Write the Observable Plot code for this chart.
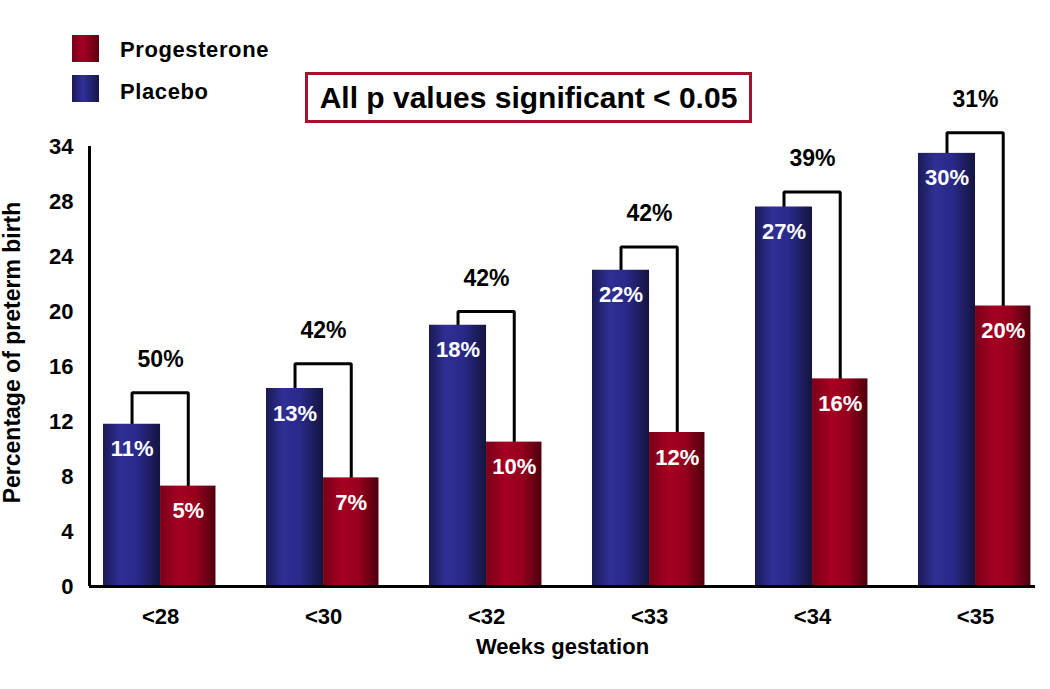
<!DOCTYPE html>
<html>
<head>
<meta charset="utf-8">
<script src="https://cdn.jsdelivr.net/npm/d3@7"></script>
<script src="https://cdn.jsdelivr.net/npm/@observablehq/plot@0.6"></script>
<style>
  html, body { margin: 0; padding: 0; background: #fff; }
  #wrap { position: relative; width: 1050px; height: 689px; font-family: "Liberation Sans", Arial, sans-serif; font-weight: bold; color: #000; }
  .sw { position: absolute; left: 72px; width: 27px; height: 27px; }
  .lt { position: absolute; left: 120px; font-size: 22px; line-height: 24px; letter-spacing: 0.6px; }
  #box { position: absolute; left: 305px; top: 72px; width: 441px; height: 45px; border: 3px solid #a0142c;
         display: flex; align-items: center; justify-content: center; font-size: 30px; background: #fff; }
</style>
</head>
<body>
<div id="wrap">
  <div class="sw" style="top:35px;background:linear-gradient(90deg,#7a0018,#a50022 40%,#5a0010)"></div>
  <div class="lt" style="top:38px">Progesterone</div>
  <div class="sw" style="top:75px;background:linear-gradient(90deg,#1a1a55,#30309a 40%,#16164a)"></div>
  <div class="lt" style="top:80px">Placebo</div>
  <div id="box">All p values significant &lt; 0.05</div>
</div>
<script>
// ---- data ----
const weeks = ["<28", "<30", "<32", "<33", "<34", "<35"];
const placebo = [11.8, 14.4, 19.0, 23.0, 27.6, 31.5];
const progesterone = [7.3, 7.9, 10.5, 11.2, 15.1, 20.4];
const bracketTop = [14.1, 16.2, 20.0, 24.7, 28.7, 33.0];
const placeboLabels = ["11%", "13%", "18%", "22%", "27%", "30%"];
const progesteroneLabels = ["5%", "7%", "10%", "12%", "16%", "20%"];
const reductionLabels = ["50%", "42%", "42%", "42%", "39%", "31%"];
const yTicks = [0, 4, 8, 12, 16, 20, 24, 28, 32];
const yTickLabels = ["0", "4", "8", "12", "16", "20", "24", "28", "34"];

// ---- layout constants (in group units) ----
const BLUE_W = 0.35, RED_W = 0.34;
const X_DOMAIN = [-0.436, 5.368];
const Y_DOMAIN = [0, 32];

const rows = weeks.map((w, i) => ({
  week: w, i,
  placebo: placebo[i], progesterone: progesterone[i], bracket: bracketTop[i],
  pl: placeboLabels[i], pr: progesteroneLabels[i], red: reductionLabels[i]
}));
const bracketPts = rows.flatMap(d => [
  {week: d.week, x: d.i - BLUE_W / 2, y: d.placebo},
  {week: d.week, x: d.i - BLUE_W / 2, y: d.bracket},
  {week: d.week, x: d.i + RED_W / 2, y: d.bracket},
  {week: d.week, x: d.i + RED_W / 2, y: d.progesterone}
]);

const svg = Plot.plot({
  width: 1050,
  height: 689,
  marginTop: 146,
  marginBottom: 103,
  marginLeft: 89,
  marginRight: 15,
  style: {fontFamily: "'Liberation Sans', Arial, sans-serif", fontSize: "22px", fontWeight: "bold", color: "#000", background: "transparent"},
  x: {type: "linear", domain: X_DOMAIN, ticks: weeks.map((_, i) => i), tickFormat: i => weeks[i], tickSize: 0, tickPadding: 22, label: null},
  y: {domain: Y_DOMAIN, ticks: yTicks, tickFormat: d => yTickLabels[yTicks.indexOf(d)], tickSize: 0, tickPadding: 16, label: null},
  marks: [
    Plot.line(bracketPts, {x: "x", y: "y", z: "week", stroke: "#000", strokeWidth: 3, strokeLinejoin: "miter", strokeLinecap: "square"}),
    Plot.rect(rows, {x1: d => d.i - BLUE_W, x2: "i", y1: 0, y2: "placebo", fill: "url(#gPlacebo)"}),
    Plot.rect(rows, {x1: "i", x2: d => d.i + RED_W, y1: 0, y2: "progesterone", fill: "url(#gProg)"}),
    Plot.text(rows, {x: d => d.i - BLUE_W / 2, y: "placebo", text: "pl", fill: "#fff", dy: 25, fontSize: 22}),
    Plot.text(rows, {x: d => d.i + RED_W / 2, y: "progesterone", text: "pr", fill: "#fff", dy: 25, fontSize: 22}),
    Plot.text(rows, {x: "i", y: "bracket", text: "red", fill: "#000", dy: -33, fontSize: 23}),
    Plot.ruleY([0], {stroke: "#000", strokeWidth: 3}),
    Plot.ruleX([X_DOMAIN[0]], {y1: 0, y2: Y_DOMAIN[1], stroke: "#000", strokeWidth: 3}),
    Plot.text(["Weeks gestation"], {frameAnchor: "bottom", lineAnchor: "middle", textAnchor: "middle", dy: 60, fontSize: 22, fill: "#000"}),
    Plot.text(["Percentage of preterm birth"], {frameAnchor: "left", textAnchor: "middle", lineAnchor: "middle", rotate: -90, dx: -77, dy: -14, fontSize: 23, fill: "#000"})
  ]
});

const defs = d3.select(svg).insert("defs", ":first-child");
function grad(id, stops) {
  const g = defs.append("linearGradient").attr("id", id).attr("x1", 0).attr("x2", 1).attr("y1", 0).attr("y2", 0);
  stops.forEach(([o, c]) => g.append("stop").attr("offset", o).attr("stop-color", c));
}
grad("gPlacebo", [[0, "#1a1a55"], [0.3, "#2f2f95"], [0.6, "#29298a"], [1, "#14143f"]]);
grad("gProg", [[0, "#7a0018"], [0.35, "#a60022"], [0.65, "#96001d"], [1, "#4d000e"]]);

// shift x tick labels slightly left, as in the reference
d3.select(svg).selectAll("[aria-label='x-axis tick label'] text, [aria-label='x-axis'] .tick text, [aria-label='x-axis tick label']")
  .filter(function() { return this.tagName === "text" || this.tagName === "g"; });

svg.style.position = "absolute";
svg.style.left = "0";
svg.style.top = "0";
const wrap = document.getElementById("wrap");
wrap.insertBefore(svg, wrap.firstChild);
</script>
</body>
</html>
